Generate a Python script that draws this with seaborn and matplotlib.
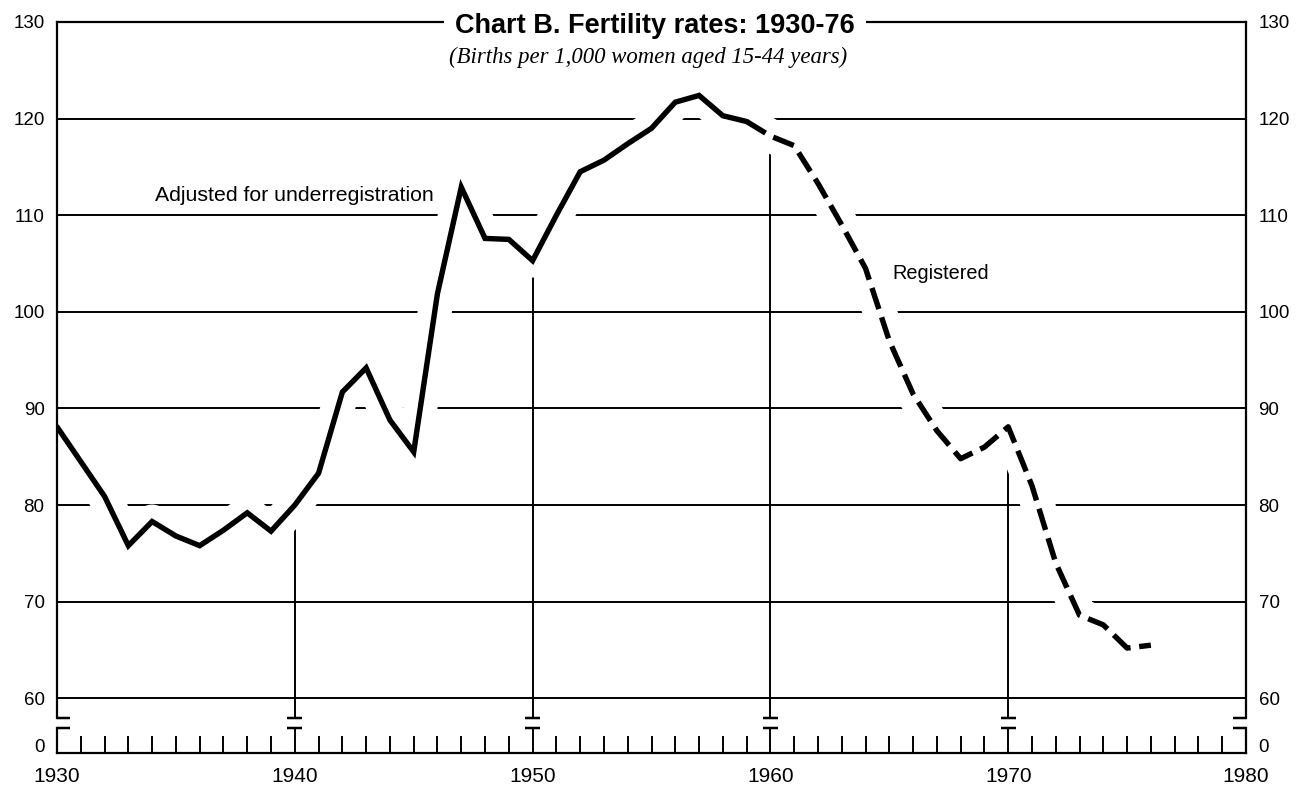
import numpy as np
import pandas as pd
import matplotlib
matplotlib.use("Agg")
import matplotlib.pyplot as plt
import seaborn as sns

# ---- data ----
years_adjusted = list(range(1930, 1960))
rate_adjusted = [88.1, 84.5, 80.9, 75.8, 78.3, 76.8, 75.8, 77.4, 79.2, 77.3,
                 80.0, 83.3, 91.7, 94.2, 88.8, 85.5, 101.9, 112.9, 107.6, 107.5,
                 105.3, 110.0, 114.5, 115.7, 117.4, 119.0, 121.7, 122.4, 120.3, 119.7]
years_registered = list(range(1959, 1977))
rate_registered = [119.7, 118.2, 117.2, 113.3, 109.0, 104.5, 97.0, 91.5, 87.7, 84.8,
                   86.0, 88.1, 82.0, 74.0, 68.6, 67.6, 65.2, 65.5]
y_ticks = [60, 70, 80, 90, 100, 110, 120, 130]
x_ticks = [1930, 1940, 1950, 1960, 1970, 1980]
decades_inner = [1940, 1950, 1960, 1970]

title = "Chart B. Fertility rates: 1930-76"
subtitle = "(Births per 1,000 women aged 15-44 years)"
label_adjusted = "Adjusted for underregistration"
label_registered = "Registered"

sns.set_theme(style="white")
plt.rcParams["font.family"] = ["Liberation Sans", "DejaVu Sans"]
plt.rcParams["text.color"] = "black"
plt.rcParams["xtick.color"] = "black"
plt.rcParams["ytick.color"] = "black"
plt.rcParams["xtick.labelcolor"] = "black"
plt.rcParams["ytick.labelcolor"] = "black"

W, H = 1306, 787
fig = plt.figure(figsize=(W / 100, H / 100), dpi=100)

left_px, right_px = 57, 1246
top_px, bot_px = 22, 718
ax = fig.add_axes([left_px / W, 1 - bot_px / H, (right_px - left_px) / W, (bot_px - top_px) / H])
ax2 = fig.add_axes([left_px / W, 1 - 753 / H, (right_px - left_px) / W, (753 - 728) / H])

ybot = 60 - (718 - 698.3) / 9.666
ax.set_xlim(1930, 1980)
ax.set_ylim(ybot, 130)

LW_GRID = 1.4
LW_DATA = 3.9

# gridlines
ax.set_yticks(y_ticks)
ax.set_axisbelow(True)
ax.yaxis.grid(True, color="black", lw=LW_GRID)
ax.xaxis.grid(False)

df_adj = pd.DataFrame({"year": years_adjusted, "rate": rate_adjusted})
df_reg = pd.DataFrame({"year": years_registered, "rate": rate_registered})
df_all = pd.concat([df_adj, df_reg.iloc[1:]], ignore_index=True)

# decade verticals reaching up to the curve
lookup = dict(zip(df_all["year"], df_all["rate"]))
ax.vlines(decades_inner, ybot, [lookup[d] for d in decades_inner], color="black", lw=LW_GRID, zorder=1)
# caps at bottom of main axis
ax.hlines([ybot] * 4, [d - 0.32 for d in decades_inner], [d + 0.32 for d in decades_inner],
          color="black", lw=LW_GRID + 0.4, clip_on=False, zorder=3)
ax.hlines([ybot, ybot], [1930, 1979.45], [1930.55, 1980], color="black", lw=LW_GRID + 0.4, clip_on=False, zorder=3)

# white halo that interrupts the grid near the curve
sns.lineplot(data=df_all, x="year", y="rate", ax=ax, color="white", lw=24.5, zorder=1.5,
             solid_capstyle="round", solid_joinstyle="round")
# data lines
sns.lineplot(data=df_adj, x="year", y="rate", ax=ax, color="black", lw=LW_DATA, zorder=3,
             solid_joinstyle="miter")
sns.lineplot(data=df_reg, x="year", y="rate", ax=ax, color="black", lw=LW_DATA, zorder=3,
             linestyle=(0, (4.1, 1.6)), dash_capstyle="butt")

ax.set_xlabel("")
ax.set_ylabel("")
ax.set_xticks([])
ax.tick_params(axis="y", which="both", length=0, labelleft=True, labelright=True, pad=9, labelsize=13.5)
for s in ["left", "right", "top"]:
    ax.spines[s].set_visible(True)
    ax.spines[s].set_color("black")
    ax.spines[s].set_linewidth(1.6)
    ax.spines[s].set_zorder(4)
ax.spines["bottom"].set_visible(False)

ax.text(1934.12, 112.0, label_adjusted, fontsize=15.3, va="center", ha="left", zorder=5)
ax.text(1965.11, 104.0, label_registered, fontsize=14.3, va="center", ha="left", zorder=5)

# lower "0" axis
ax2.set_xlim(1930, 1980)
ax2.set_ylim(0, 1)
ax2.set_yticks([0.28])
ax2.set_yticklabels(["0"])
ax2.set_xticks(x_ticks)
ax2.set_xticklabels([str(x) for x in x_ticks])
ax2.set_xticks([y for y in range(1931, 1980) if y % 10 != 0], minor=True)
ax2.tick_params(axis="y", length=0, labelleft=True, labelright=True, pad=9, labelsize=13.5)
ax2.tick_params(axis="x", which="major", direction="in", length=18, width=LW_GRID, pad=10,
                labelsize=15, bottom=True, color="black")
ax2.tick_params(axis="x", which="minor", direction="in", length=12.5, width=LW_GRID,
                bottom=True, color="black")
for s in ["left", "right", "bottom"]:
    ax2.spines[s].set_visible(True)
    ax2.spines[s].set_color("black")
    ax2.spines[s].set_linewidth(1.6)
ax2.spines["top"].set_visible(False)
ax2.hlines([1] * 4, [d - 0.32 for d in decades_inner], [d + 0.32 for d in decades_inner],
           color="black", lw=LW_GRID + 0.4, clip_on=False)
ax2.hlines([1, 1], [1930, 1979.45], [1930.55, 1980], color="black", lw=LW_GRID + 0.4, clip_on=False)
ax2.grid(False)

# title over the top frame line
fig.text(655 / W, 1 - 33.3 / H, title, fontsize=19.5, fontweight="bold", ha="center", va="baseline",
         bbox=dict(facecolor="white", edgecolor="none", pad=8), zorder=10)
fig.text(648 / W, 1 - 63 / H, subtitle, fontsize=16.4, fontstyle="italic", ha="center", va="baseline",
         family=["Liberation Serif", "DejaVu Serif"], zorder=10)

fig.savefig("out.png", dpi=100, facecolor="white")
